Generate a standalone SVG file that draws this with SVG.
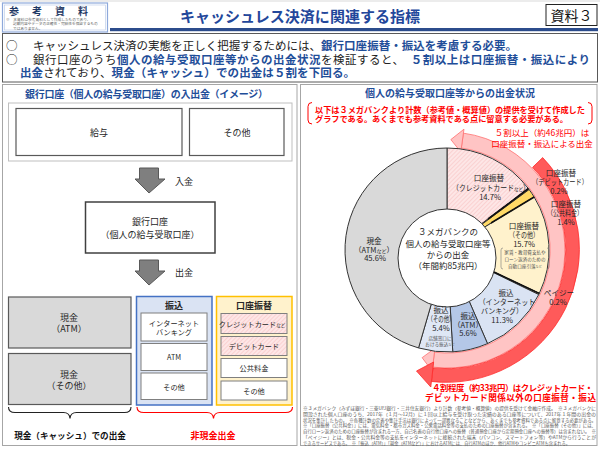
<svg xmlns="http://www.w3.org/2000/svg" width="600" height="450" viewBox="0 0 600 450">
<style>
text{font-family:"Noto Sans CJK JP","Liberation Sans",sans-serif;}
.b{fill:#1f4e99;font-weight:bold;}
.k{fill:#222;}
.t9{font-size:9px;fill:#262626;}
.t75{font-size:7.2px;fill:#262626;}
.bx{fill:#fff;stroke:#7f7f7f;stroke-width:1;}
.pl{font-size:7.6px;fill:#262626;text-anchor:middle;}
.sm{font-size:4.6px;fill:#555;text-anchor:middle;}
.fn{font-size:4.4px;fill:#595959;}
.red{fill:#ff0000;font-weight:bold;}
.w{stroke:#333;stroke-width:1;}
.arw{fill:#7f7f7f;stroke:#595959;stroke-width:1;}
</style>
<defs>
<pattern id="hatch" width="3" height="3" patternUnits="userSpaceOnUse" patternTransform="rotate(45)">
<rect width="3" height="3" fill="#fde6e6"/>
<line x1="0" y1="0" x2="0" y2="3" stroke="#f5b3b3" stroke-width="0.8"/>
</pattern>
</defs>
<rect width="600" height="450" fill="#fff"/>

<g id="header">
<rect x="2.5" y="3" width="105" height="29" fill="#fff" stroke="#8ea9db" stroke-width="1.2"/>
<rect x="4.5" y="5" width="101" height="25" fill="none" stroke="#b4c7e7" stroke-width="0.6"/>
<text x="55" y="15" text-anchor="middle" font-size="10" font-weight="bold" fill="#1f3864" letter-spacing="13">参考資料</text>
<text x="6" y="21" font-size="3.7" fill="#666">※　本資料は参考資料として作成したものであり、</text>
<text x="13" y="25.3" font-size="3.7" fill="#666">記載内容やデータの正確性・完結性を保証するもの</text>
<text x="13" y="29.5" font-size="3.7" fill="#666">ではありません。</text>
<line x1="0" y1="1" x2="600" y2="1" stroke="#d9d9d9" stroke-width="1"/>
<rect x="110" y="28" width="488" height="3.2" fill="#2c4c8c"/>
<text x="180" y="22" font-size="15" font-weight="bold" fill="#23479b" textLength="240">キャッシュレス決済に関連する指標</text>
<rect x="546" y="4.5" width="51" height="21" fill="#fff" stroke="#222" stroke-width="1"/>
<text x="571.5" y="20.5" text-anchor="middle" font-size="14" fill="#111">資料３</text>
</g>

<g id="summary">
<rect x="2.5" y="33.5" width="595" height="48.5" fill="#fff" stroke="#595959" stroke-width="1"/>
<text x="6" y="49.5" font-size="11.5" class="k">○</text>
<text x="33" y="49.5" font-size="11.5" textLength="484" lengthAdjust="spacing"><tspan class="k">キャッシュレス決済の実態を正しく把握するためには、</tspan><tspan class="b">銀行口座振替・振込を考慮する必要。</tspan></text>
<text x="6" y="64" font-size="11.5" class="k">○</text>
<text x="33" y="64" font-size="11.5" textLength="557" lengthAdjust="spacing"><tspan class="k">銀行口座のうち</tspan><tspan class="b">個人の給与受取口座等からの出金状況</tspan><tspan class="k">を検証すると、</tspan><tspan class="b">　５割以上は口座振替・振込により</tspan></text>
<text x="20" y="77" font-size="11.5" textLength="335" lengthAdjust="spacing"><tspan class="b">出金</tspan><tspan class="k">されており、</tspan><tspan class="b">現金（キャッシュ）での出金は５割を下回る。</tspan></text>
</g>

<g id="left-panel">
<rect x="2.5" y="84.5" width="294.5" height="361" fill="#fff" stroke="#a6a6a6" stroke-width="1"/>
<text x="25" y="98" font-size="10" class="b" textLength="243" lengthAdjust="spacing">銀行口座（個人の給与受取口座）の入出金（イメージ）</text>
</g>

<g id="income">
<rect x="8.5" y="103" width="283.5" height="58" fill="#fff" stroke="#bfbfbf" stroke-width="1"/>
<g id="salary"><rect x="16" y="108.5" width="166" height="47" fill="#fff" stroke="#595959" stroke-width="1.2"/><text x="99" y="136" text-anchor="middle" class="t9">給与</text></g>
<g id="other-in"><rect x="189.5" y="108.5" width="94.5" height="47" fill="#fff" stroke="#595959" stroke-width="1.2"/><text x="237" y="136" text-anchor="middle" class="t9">その他</text></g>
</g>

<g id="bank">
<rect x="85.5" y="202" width="129.5" height="51" fill="#fff" stroke="#404040" stroke-width="1.5"/>
<text x="150" y="225" text-anchor="middle" class="t9">銀行口座</text>
<text x="150" y="237.5" text-anchor="middle" class="t9">（個人の給与受取口座）</text>
</g>

<g id="connectors">
<path class="arw" d="M139.5,168 H158.5 V179 H165 L149,193 L135,179 H139.5 Z"/>
<text x="175" y="185" class="t9">入金</text>
<path class="arw" d="M139.5,260 H158.5 V271 H165 L149,285 L135,271 H139.5 Z"/>
<text x="175" y="276" class="t9">出金</text>
<path d="M8.5,407 Q8.5,412.5 15,412.5 H63.5 Q69.5,412.5 70,418.5 Q70.5,412.5 76.5,412.5 H124.5 Q131,412.5 131,407" fill="none" stroke="#222" stroke-width="1.1"/>
<path d="M137,407 Q137,412.5 144,412.5 H207 Q213,412.5 213.5,418.5 Q214,412.5 220,412.5 H285.5 Q292.5,412.5 292.5,407" fill="none" stroke="#ff0000" stroke-width="1.1"/>
</g>

<g id="cash">
<rect x="8.5" y="297" width="122.5" height="51" fill="#d9d9d9" stroke="#595959" stroke-width="1.2"/>
<text x="69" y="320.5" text-anchor="middle" class="t9">現金</text>
<text x="69" y="331.5" text-anchor="middle" class="t9">（ATM）</text>
<rect x="8.5" y="353.5" width="122.5" height="51" fill="#d9d9d9" stroke="#595959" stroke-width="1.2"/>
<text x="69" y="377.5" text-anchor="middle" class="t9">現金</text>
<text x="69" y="388.5" text-anchor="middle" class="t9">（その他）</text>
<text x="70" y="438.5" text-anchor="middle" font-size="8.6" font-weight="bold" fill="#111">現金（キャッシュ）での出金</text>
</g>

<g id="furikomi">
<rect x="136.5" y="296.5" width="75.5" height="108.5" fill="#dae3f3" stroke="#4472c4" stroke-width="1.5"/>
<text x="174" y="308.5" text-anchor="middle" font-size="9" font-weight="bold" fill="#262626">振込</text>
<rect class="bx" x="141" y="313" width="66" height="28"/>
<text x="174" y="325.5" text-anchor="middle" class="t75">インターネット</text>
<text x="174" y="334.5" text-anchor="middle" class="t75">バンキング</text>
<rect class="bx" x="141" y="343.5" width="66" height="27"/>
<text x="174" y="360" text-anchor="middle" class="t75">ATM</text>
<rect class="bx" x="141" y="373" width="66" height="26.5"/>
<text x="174" y="390" text-anchor="middle" class="t75">その他</text>
</g>

<g id="furikae">
<rect x="216.5" y="296.5" width="75.5" height="108.5" fill="#fff2cc" stroke="#ffc000" stroke-width="1.5"/>
<text x="254" y="308.5" text-anchor="middle" font-size="9" font-weight="bold" fill="#262626">口座振替</text>
<rect x="221" y="313.5" width="66" height="20" fill="url(#hatch)" stroke="#7f7f7f" stroke-width="1"/>
<text x="252" y="326.5" text-anchor="middle" font-size="7.2" fill="#262626">クレジットカード<tspan font-size="4.5">など</tspan></text>
<rect x="221" y="336.5" width="66" height="19" fill="url(#hatch)" stroke="#7f7f7f" stroke-width="1"/>
<text x="254" y="348.5" text-anchor="middle" class="t75">デビットカード</text>
<rect class="bx" x="221" y="358.5" width="66" height="19"/>
<text x="254" y="370.5" text-anchor="middle" class="t75">公共料金</text>
<rect class="bx" x="221" y="381" width="66" height="19"/>
<text x="254" y="393.5" text-anchor="middle" class="t75">その他</text>
<text x="213" y="438.5" text-anchor="middle" font-size="9" font-weight="bold" fill="#ff0000">非現金出金</text>
</g>

<g id="right-panel">
<rect x="300.5" y="84.5" width="296.5" height="361" fill="#fff" stroke="#a6a6a6" stroke-width="1"/>
<text x="450" y="97" text-anchor="middle" font-size="10" class="b">個人の給与受取口座等からの出金状況</text>
<path d="M312,102.5 Q308,102.5 308,106.5 V120 Q308,124 312,124" fill="none" stroke="#ff0000" stroke-width="1"/>
<path d="M588,102.5 Q592,102.5 592,106.5 V120 Q592,124 588,124" fill="none" stroke="#ff0000" stroke-width="1"/>
<text x="315" y="112.5" font-size="8.2" class="red" textLength="270" lengthAdjust="spacing">以下は３メガバンクより計数（参考値・概算値）の提供を受けて作成した</text>
<text x="315" y="122" font-size="8.2" class="red" textLength="253" lengthAdjust="spacing">グラフである。あくまでも参考資料である点に留意する必要がある。</text>
</g>

<g id="bands">
<path d="M463.43,133.15 A118,118 0 0 1 432.62,367.12 L434.44,352.23 A103,103 0 0 0 461.34,148 Z" fill="#ffc4c4" stroke="#ff7070" stroke-width="0.8"/>
<path d="M460.78,151.96 L463.98,129.18 L450.86,139.57 Z" fill="#ffc4c4" stroke="#ff7070" stroke-width="0.8"/>
<path d="M434.93,348.26 L432.13,371.09 L422.14,357.67 Z" fill="#ffc4c4" stroke="#ff7070" stroke-width="0.8"/>
<path d="M542.67,157.6 A133,133 0 0 1 431.5,381.5 L433,368 A119,119 0 0 0 532.6,167.33 Z" fill="#ff5a5a" stroke="#ff2a2a" stroke-width="0.8"/>
<path d="M433.6,362 L430.8,387 L416.5,371 Z" fill="#ff5a5a" stroke="#ff2a2a" stroke-width="0.8"/>
<text x="542" y="136" text-anchor="middle" font-size="8.5" fill="#ff0000">５割以上（約46兆円）は</text>
<text x="542" y="146.5" text-anchor="middle" font-size="8.5" fill="#ff0000">口座振替・振込による出金</text>
<text x="432" y="390.5" font-size="8.4" class="red" textLength="161" lengthAdjust="spacing">４割程度（約33兆円）はクレジットカード・</text>
<text x="425" y="401" font-size="8.6" class="red" textLength="171" lengthAdjust="spacing">デビットカード関係以外の口座振替・振込</text>
</g>

<g id="donut">
<path id="seg-credit" class="w" fill="url(#hatch)" d="M447,250 L447,148 A102,102 0 0 1 528.37,188.5 Z"/>
<path id="seg-debit" class="w" fill="#ff7f7f" d="M447,250 L528.37,188.5 A102,102 0 0 1 529.13,189.52 Z"/>
<path id="seg-public" class="w" fill="#ffd966" d="M447,250 L529.13,189.52 A102,102 0 0 1 534.14,196.98 Z"/>
<path id="seg-other-transfer" class="w" fill="#fff2cc" d="M447,250 L534.14,196.98 A102,102 0 0 1 539.29,293.43 Z"/>
<path id="seg-payeasy" class="w" fill="#ffe699" d="M447,250 L539.29,293.43 A102,102 0 0 1 538.75,294.59 Z"/>
<path id="seg-internet" class="w" fill="#dae3f3" d="M447,250 L538.75,294.59 A102,102 0 0 1 487.5,343.62 Z"/>
<path id="seg-atm" class="w" fill="#b4c7e7" d="M447,250 L487.5,343.62 A102,102 0 0 1 452.76,351.84 Z"/>
<path id="seg-other-furikomi" class="w" fill="#dfe7f5" d="M447,250 L452.76,351.84 A102,102 0 0 1 418.54,347.95 Z"/>
<path id="seg-cash" class="w" fill="#d9d9d9" d="M447,250 L418.54,347.95 A102,102 0 0 1 447,148 Z"/>
<line x1="528.37" y1="188.5" x2="488" y2="219" stroke="#111" stroke-width="1.6"/>
<line x1="534.14" y1="196.98" x2="491" y2="223" stroke="#111" stroke-width="1.6"/>
<line x1="539.29" y1="293.43" x2="494" y2="272" stroke="#111" stroke-width="1.4"/>
<circle id="center" cx="447" cy="258" r="49" fill="#fff" stroke="#333" stroke-width="1"/>
<text x="448" y="235" text-anchor="middle" font-size="8.5" fill="#262626">３メガバンクの</text>
<text x="448" y="247" text-anchor="middle" font-size="8.5" fill="#262626">個人の給与受取口座等</text>
<text x="448" y="258" text-anchor="middle" font-size="8.5" fill="#262626">からの出金</text>
<text x="448" y="269" text-anchor="middle" font-size="8.5" fill="#262626">（年間約85兆円）</text>
</g>

<g id="labels">
<text x="489" y="181" class="pl">口座振替</text>
<text x="491" y="190.5" class="pl" textLength="78" lengthAdjust="spacingAndGlyphs">（クレジットカード<tspan font-size="5">など</tspan>）</text>
<text x="490" y="200" class="pl">14.7%</text>
<text x="561" y="176" class="pl">口座振替</text>
<text x="560" y="185" class="pl" textLength="56" lengthAdjust="spacingAndGlyphs">（デビットカード）</text>
<text x="559" y="194" class="pl">0.2%</text>
<text x="566" y="207" class="pl">口座振替</text>
<text x="565" y="216" class="pl" textLength="36" lengthAdjust="spacingAndGlyphs">（公共料金）</text>
<text x="566" y="225" class="pl">1.4%</text>
<text x="524" y="229" class="pl">口座振替</text>
<text x="524" y="238" class="pl" textLength="30" lengthAdjust="spacingAndGlyphs">（その他）</text>
<text x="524" y="247" class="pl">15.7%</text>
<path d="M503,248 Q501,248 501,250 V267 Q501,269 503,269" fill="none" stroke="#777" stroke-width="0.6"/>
<path d="M547,248 Q549,248 549,250 V267 Q549,269 547,269" fill="none" stroke="#777" stroke-width="0.6"/>
<text x="525" y="253.5" class="sm">家賃・教育費支払や</text>
<text x="525" y="260.5" class="sm">ローン返済のための</text>
<text x="525" y="267.5" class="sm">自動口座引落<tspan font-size="3.2">など</tspan></text>
<text x="559" y="296" class="pl">ペイジー</text>
<text x="558" y="305" class="pl">0.2%</text>
<text x="506" y="296" class="pl">振込</text>
<text x="507" y="305" class="pl" textLength="57" lengthAdjust="spacingAndGlyphs">（インターネット</text>
<text x="502" y="313.5" class="pl" textLength="42" lengthAdjust="spacingAndGlyphs">バンキング）</text>
<text x="502" y="322.5" class="pl">11.3%</text>
<text x="468" y="319" class="pl">振込</text>
<text x="468" y="327.5" class="pl" font-size="7">（ATM）</text>
<text x="468" y="336" class="pl">5.6%</text>
<text x="441" y="313" class="pl">振込</text>
<text x="441" y="322" class="pl" textLength="27" lengthAdjust="spacingAndGlyphs">（その他）</text>
<text x="441" y="331" class="pl">5.4%</text>
<text x="440" y="340" class="sm">店舗窓口に</text>
<text x="440" y="346" class="sm">おける振込<tspan font-size="3.2">など</tspan></text>
<text x="374" y="244" class="pl">現金</text>
<text x="374" y="252.5" class="pl">（ATM<tspan font-size="5">など</tspan>）</text>
<text x="375" y="261" class="pl">45.6%</text>
</g>

<g id="footnote">
<text x="303" y="410" class="fn" textLength="293" lengthAdjust="spacingAndGlyphs">※３メガバンク（みずほ銀行・三菱UFJ銀行・三井住友銀行）より計数（参考値・概算値）の提供を受けて金融庁作成。　※３メガバンクに</text>
<text x="303" y="415.8" class="fn" textLength="293" lengthAdjust="spacingAndGlyphs">開設された個人口座のうち、2017年（１月～12月）に１回以上給与を受け取った実績のある口座等について、2017年１年間の出金の</text>
<text x="303" y="421.5" class="fn" textLength="293" lengthAdjust="spacingAndGlyphs">状況を集計したもの。　※各種計数の定義や集計手法は銀行によって一部異なることなどから、あくまでも参考資料である点に留意する必要がある。</text>
<text x="303" y="427.3" class="fn" textLength="293" lengthAdjust="spacingAndGlyphs">※「口座振替（公共料金）」には、電気料金・都市ガス料金・公衆電話料金等の支払のための口座振替が含まれる。　※「口座振替（その他）」には、</text>
<text x="303" y="433" class="fn" textLength="293" lengthAdjust="spacingAndGlyphs">自行ローン返済のための口座振替が含まれる一方、自己名義の自行他口座への振替（普通預金口座から定期預金口座への振替等）は含まれない。　※</text>
<text x="303" y="438.8" class="fn" textLength="293" lengthAdjust="spacingAndGlyphs">「ペイジー」とは、税金・公共料金等の支払をインターネットに接続された端末（パソコン、スマートフォン等）やATMから行うことが</text>
<text x="303" y="444.5" class="fn" textLength="267" lengthAdjust="spacingAndGlyphs">できるサービスである。　※「振込（ATM）」「現金（ATMなど）」におけるATMには、自行ATMのほか、他行ATMやコンビニATMも含まれる。</text>
</g>
</svg>
